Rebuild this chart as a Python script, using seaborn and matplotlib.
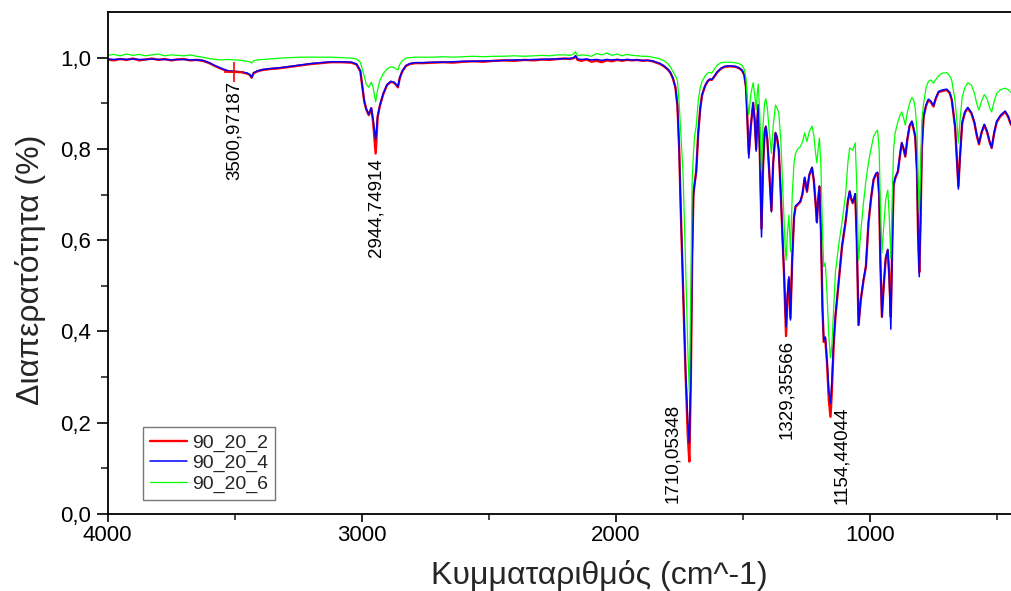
import matplotlib
matplotlib.use("Agg")
import matplotlib.pyplot as plt
import numpy as np
import pandas as pd
import seaborn as sns

# ---------------------------------------------------------------------------
# FTIR transmittance spectra (wavenumber in cm^-1, transmittance as fraction)
# ---------------------------------------------------------------------------
WAVENUMBER = [
    # 4000-3000: O-H region
    4000, 3975, 3950, 3925, 3900, 3875, 3850, 3825, 3800, 3775, 3750, 3725,
    3700, 3675, 3650, 3625, 3600, 3575, 3550, 3525, 3500.97187, 3475, 3450,
    3440, 3433, 3425, 3410, 3390, 3360, 3320, 3280, 3240, 3200, 3160, 3120,
    3080, 3040, 3020, 3005,
    # 3000-2800: C-H stretching
    2990, 2982, 2972, 2962, 2955, 2944.74914, 2937, 2928, 2915, 2900, 2885,
    2872, 2864, 2857, 2850, 2840, 2825, 2810, 2790,
    # 2800-1840: flat region
    2760, 2720, 2680, 2640, 2600, 2560, 2520, 2480, 2440, 2400, 2360, 2320,
    2290, 2260, 2230, 2200, 2180, 2165, 2158, 2150, 2135, 2115, 2095, 2075,
    2055, 2035, 2015, 1995, 1975, 1955, 1935, 1915, 1895, 1875, 1855, 1840,
    # 1830-440: carbonyl and fingerprint region
    1825, 1810, 1795, 1785, 1775, 1765, 1757, 1750, 1744, 1735, 1725, 1716,
    1710.05348, 1704, 1699, 1694, 1689, 1683, 1675, 1667, 1660, 1648, 1638,
    1630, 1622, 1612, 1600, 1585, 1570, 1550, 1530, 1515, 1503, 1494, 1487,
    1482, 1476, 1468, 1459, 1453, 1447, 1443, 1439, 1433, 1426, 1420, 1414,
    1409, 1403, 1395, 1387, 1380, 1371, 1365, 1358, 1350, 1343, 1337, 1333,
    1329.35566, 1324, 1318, 1312, 1305, 1298, 1292, 1283, 1273, 1265, 1256,
    1247, 1238, 1227, 1220, 1213, 1208, 1203, 1198, 1192, 1186, 1181, 1175,
    1168, 1161, 1154.44044, 1149, 1142, 1135, 1122, 1109, 1095, 1086, 1079,
    1073, 1067, 1062, 1057, 1051, 1044, 1035, 1025, 1015, 1005, 995, 985, 975,
    969, 963, 958, 952, 945, 937, 929, 923, 917, 911, 906, 900, 889, 880, 874,
    867, 860, 852, 843, 834, 826, 821, 814, 810, 805, 800, 795, 788, 778, 769,
    760, 749, 740, 729, 715, 697, 685, 677, 664, 657, 651, 645, 636, 625, 614,
    600, 588, 579, 570, 560, 549, 538, 528, 520, 510, 500, 485, 467, 455, 447,
    440,
]

T_90_20_2 = [
    0.996, 0.994, 0.997, 0.995, 0.998, 0.994, 0.996, 0.998, 0.995, 0.997, 0.994, 0.996,
    0.997, 0.994, 0.995, 0.993, 0.988, 0.981, 0.975, 0.970, 0.969, 0.968, 0.965,
    0.962, 0.956, 0.966, 0.970, 0.973, 0.975, 0.977, 0.980, 0.983, 0.986, 0.988, 0.990,
    0.990, 0.989, 0.985, 0.970,
    0.905, 0.887, 0.874, 0.889, 0.860, 0.790, 0.870, 0.895, 0.920, 0.940, 0.947,
    0.945, 0.940, 0.935, 0.955, 0.970, 0.982, 0.986, 0.988,
    0.988, 0.989, 0.990, 0.989, 0.991, 0.992, 0.991, 0.993, 0.994, 0.993, 0.995, 0.994,
    0.996, 0.995, 0.997, 0.998, 0.997, 0.999, 1.003, 0.995, 0.993, 0.996, 0.991, 0.993,
    0.990, 0.994, 0.992, 0.995, 0.993, 0.995, 0.994, 0.995, 0.993, 0.994, 0.992, 0.989,
    0.986, 0.981, 0.974, 0.967, 0.955, 0.935, 0.895, 0.800, 0.670, 0.500, 0.310, 0.170,
    0.115, 0.300, 0.560, 0.700, 0.725, 0.750, 0.835, 0.890, 0.918, 0.938, 0.948,
    0.952, 0.951, 0.958, 0.968, 0.976, 0.980, 0.981, 0.980, 0.977, 0.972, 0.962, 0.935,
    0.870, 0.790, 0.850, 0.900, 0.865, 0.800, 0.860, 0.895, 0.800, 0.625, 0.760, 0.835,
    0.848, 0.820, 0.745, 0.665, 0.770, 0.834, 0.825, 0.797, 0.700, 0.600, 0.520, 0.450,
    0.390, 0.470, 0.515, 0.430, 0.560, 0.650, 0.673, 0.678, 0.684, 0.700, 0.736,
    0.706, 0.742, 0.758, 0.730, 0.680, 0.640, 0.690, 0.717, 0.620, 0.450, 0.377, 0.385,
    0.330, 0.250, 0.213, 0.270, 0.370, 0.432, 0.510, 0.586, 0.640, 0.685, 0.706,
    0.690, 0.681, 0.690, 0.700, 0.600, 0.414, 0.470, 0.510, 0.542, 0.637, 0.690, 0.732, 0.745,
    0.747, 0.700, 0.550, 0.432, 0.500, 0.560, 0.578, 0.520, 0.432, 0.600, 0.720, 0.735, 0.750, 0.790, 0.812,
    0.800, 0.783, 0.820, 0.850, 0.859, 0.840, 0.827, 0.750, 0.620, 0.530, 0.640, 0.800, 0.870, 0.895, 0.907,
    0.903, 0.893, 0.910, 0.924, 0.927, 0.929, 0.922, 0.907, 0.848, 0.780, 0.718, 0.780, 0.857, 0.880, 0.889,
    0.878, 0.857, 0.830, 0.810, 0.835, 0.852, 0.837, 0.815, 0.802, 0.835, 0.859, 0.872, 0.881, 0.870, 0.857,
    0.850,
]

T_90_20_4 = [
    0.997, 0.996, 0.997, 0.996, 0.997, 0.996, 0.996, 0.997, 0.996, 0.996, 0.995, 0.996,
    0.996, 0.995, 0.995, 0.994, 0.989, 0.982, 0.976, 0.971, 0.970, 0.969, 0.966,
    0.963, 0.957, 0.967, 0.971, 0.974, 0.976, 0.978, 0.981, 0.984, 0.987, 0.989, 0.991,
    0.991, 0.990, 0.986, 0.971,
    0.906, 0.888, 0.876, 0.890, 0.865, 0.820, 0.872, 0.896, 0.921, 0.941, 0.948,
    0.946, 0.941, 0.937, 0.956, 0.971, 0.983, 0.987, 0.989,
    0.989, 0.990, 0.990, 0.991, 0.992, 0.992, 0.993, 0.993, 0.994, 0.995, 0.995, 0.996,
    0.996, 0.997, 0.997, 0.998, 0.998, 1.000, 1.004, 0.997, 0.996, 0.997, 0.995, 0.996,
    0.994, 0.996, 0.995, 0.996, 0.995, 0.996, 0.995, 0.995, 0.994, 0.994, 0.993, 0.990,
    0.987, 0.982, 0.975, 0.968, 0.956, 0.936, 0.896, 0.800, 0.670, 0.500, 0.315, 0.200,
    0.155, 0.320, 0.560, 0.700, 0.725, 0.750, 0.835, 0.890, 0.918, 0.939, 0.949,
    0.953, 0.952, 0.959, 0.969, 0.977, 0.981, 0.982, 0.981, 0.978, 0.973, 0.963, 0.935,
    0.868, 0.780, 0.850, 0.902, 0.862, 0.795, 0.860, 0.897, 0.795, 0.607, 0.760, 0.836,
    0.850, 0.820, 0.742, 0.662, 0.770, 0.836, 0.826, 0.797, 0.700, 0.600, 0.525, 0.460,
    0.410, 0.480, 0.520, 0.425, 0.560, 0.652, 0.675, 0.680, 0.686, 0.702, 0.738,
    0.708, 0.744, 0.760, 0.731, 0.680, 0.638, 0.690, 0.719, 0.615, 0.450, 0.380, 0.388,
    0.335, 0.270, 0.243, 0.290, 0.380, 0.435, 0.512, 0.588, 0.642, 0.687, 0.708,
    0.692, 0.683, 0.692, 0.702, 0.600, 0.414, 0.470, 0.512, 0.544, 0.639, 0.692, 0.734, 0.747,
    0.749, 0.700, 0.550, 0.432, 0.500, 0.562, 0.580, 0.515, 0.405, 0.600, 0.722, 0.737, 0.752, 0.792, 0.814,
    0.802, 0.785, 0.822, 0.852, 0.861, 0.842, 0.828, 0.750, 0.615, 0.520, 0.640, 0.802, 0.872, 0.897, 0.909,
    0.905, 0.895, 0.912, 0.926, 0.929, 0.931, 0.924, 0.908, 0.848, 0.778, 0.712, 0.780, 0.859, 0.882, 0.891,
    0.880, 0.859, 0.832, 0.812, 0.837, 0.854, 0.839, 0.816, 0.802, 0.837, 0.861, 0.874, 0.883, 0.872, 0.859,
    0.852,
]

T_90_20_6 = [
    1.005, 1.007, 1.004, 1.008, 1.005, 1.007, 1.004, 1.006, 1.008, 1.004, 1.006, 1.005,
    1.004, 1.006, 1.003, 1.001, 0.998, 0.996, 0.995, 0.996, 0.995, 0.994, 0.992,
    0.991, 0.988, 0.993, 0.995, 0.996, 0.997, 0.999, 1.000, 1.001, 1.001, 1.001, 1.001,
    1.000, 0.999, 0.997, 0.990,
    0.960, 0.942, 0.935, 0.946, 0.935, 0.903, 0.930, 0.950, 0.965, 0.975, 0.980,
    0.978, 0.975, 0.973, 0.985, 0.993, 0.999, 1.000, 1.001,
    1.001, 1.001, 1.002, 1.001, 1.002, 1.003, 1.002, 1.003, 1.003, 1.004, 1.003, 1.004,
    1.005, 1.004, 1.006, 1.006, 1.005, 1.008, 1.013, 1.004, 1.006, 1.005, 1.003, 1.009,
    1.006, 1.010, 1.005, 1.008, 1.004, 1.007, 1.005, 1.004, 1.003, 1.003, 1.001, 0.999,
    0.997, 0.993, 0.987, 0.980, 0.970, 0.960, 0.950, 0.900, 0.840, 0.747, 0.550, 0.360,
    0.268, 0.500, 0.730, 0.790, 0.830, 0.850, 0.905, 0.935, 0.948, 0.960, 0.966,
    0.968, 0.966, 0.974, 0.984, 0.989, 0.990, 0.990, 0.989, 0.987, 0.983, 0.975, 0.955,
    0.910, 0.875, 0.920, 0.945, 0.920, 0.885, 0.920, 0.942, 0.880, 0.752, 0.850, 0.900,
    0.910, 0.890, 0.835, 0.790, 0.850, 0.896, 0.890, 0.878, 0.820, 0.720, 0.640, 0.585,
    0.556, 0.615, 0.655, 0.575, 0.700, 0.770, 0.790, 0.800, 0.805, 0.815, 0.835,
    0.816, 0.838, 0.850, 0.830, 0.790, 0.769, 0.800, 0.824, 0.760, 0.620, 0.542, 0.550,
    0.480, 0.390, 0.342, 0.370, 0.450, 0.530, 0.590, 0.640, 0.700, 0.770, 0.802,
    0.800, 0.797, 0.805, 0.813, 0.720, 0.556, 0.620, 0.680, 0.730, 0.770, 0.800, 0.827, 0.838,
    0.841, 0.800, 0.680, 0.572, 0.630, 0.690, 0.710, 0.650, 0.561, 0.700, 0.800, 0.835, 0.860, 0.875, 0.881,
    0.868, 0.852, 0.880, 0.900, 0.913, 0.905, 0.890, 0.840, 0.750, 0.660, 0.750, 0.860, 0.900, 0.935, 0.948,
    0.951, 0.944, 0.952, 0.960, 0.966, 0.967, 0.960, 0.950, 0.905, 0.860, 0.813, 0.860, 0.914, 0.935, 0.945,
    0.940, 0.922, 0.900, 0.885, 0.905, 0.919, 0.910, 0.890, 0.881, 0.905, 0.922, 0.930, 0.933, 0.930, 0.925,
    0.923,
]

SAMPLES = ["90_20_2", "90_20_4", "90_20_6"]
PEAKS = [3500.97187, 2944.74914, 1710.05348, 1329.35566, 1154.44044]

X_TICKS = [4000, 3000, 2000, 1000]
X_MINOR = [3500, 2500, 1500, 500]
Y_TICKS = [0.0, 0.2, 0.4, 0.6, 0.8, 1.0]
Y_MINOR = [0.1, 0.3, 0.5, 0.7, 0.9]
Y_TICK_LABELS = ["0,0", "0,2", "0,4", "0,6", "0,8", "1,0"]

series = [T_90_20_2, T_90_20_4, T_90_20_6]
for s in series:
    assert len(s) == len(WAVENUMBER), (len(s), len(WAVENUMBER))

frames = [
    pd.DataFrame({"wavenumber": WAVENUMBER, "transmittance": t, "sample": name})
    for name, t in zip(SAMPLES, series)
]
spectra = pd.concat(frames, ignore_index=True)

# ---------------------------------------------------------------------------
sns.set_theme(style="ticks")
plt.rcParams["font.family"] = ["Liberation Sans", "DejaVu Sans"]
plt.rcParams["axes.linewidth"] = 1.3

fig = plt.figure(figsize=(10.12, 5.91), dpi=100)
ax = fig.add_axes([0.1063, 0.1303, 0.8937, 0.8494])

line_styles = {
    "90_20_2": dict(color="#ff0000", linewidth=1.7),
    "90_20_4": dict(color="#0000ff", linewidth=1.1),
    "90_20_6": dict(color="#00ff00", linewidth=0.9),
}
for name in SAMPLES:
    sns.lineplot(
        data=spectra[spectra["sample"] == name],
        x="wavenumber", y="transmittance",
        sort=False, estimator=None, label=name, ax=ax,
        **line_styles[name],
    )

# peak labels: (dx, dy) offsets in pixels of each label's top edge
label_offsets = [(0, -9), (0, -5), (-17, 58), (1, -4), (11, 10)]
ref = spectra[spectra["sample"] == "90_20_2"].set_index("wavenumber")["transmittance"]
for i, (wn, (dx, dy)) in enumerate(zip(PEAKS, label_offsets)):
    t = ref.loc[wn]
    if i == 0:
        ax.plot([wn], [t], marker="+", color="#ff0000", markersize=14,
                markeredgewidth=1.2, linestyle="none")
    ax.annotate(f"{wn:.5f}".replace(".", ","), xy=(wn, t),
                xytext=(dx, dy), textcoords="offset pixels",
                rotation=90, ha="center", va="top", fontsize=13.5,
                color="black")

ax.set_xlim(4000, 440)
ax.set_ylim(0, 1.1)
ax.set_xticks(X_TICKS)
ax.set_xticks(X_MINOR, minor=True)
ax.set_xticklabels([str(v) for v in X_TICKS])
ax.set_yticks(Y_TICKS)
ax.set_yticks(Y_MINOR, minor=True)
ax.set_yticklabels(Y_TICK_LABELS)

ax.tick_params(axis="both", which="major", direction="out", width=1.2,
               labelsize=16, colors="black")
ax.tick_params(axis="x", which="major", length=6, pad=2)
ax.tick_params(axis="y", which="major", length=8, pad=4)
ax.tick_params(axis="x", which="minor", length=4, width=1.2)
ax.tick_params(axis="y", which="minor", length=5, width=1.2)

for side in ("left", "bottom", "top"):
    ax.spines[side].set_visible(True)
    ax.spines[side].set_color("black")
ax.spines["right"].set_visible(False)

ax.set_xlabel("Κυμματαριθμός (cm^-1)", fontsize=23)
ax.set_ylabel("Διαπερατότητα (%)", fontsize=23)
ax.xaxis.set_label_coords(0.544, -0.092)
ax.yaxis.set_label_coords(-0.068, 0.486)

leg = ax.legend(loc="lower left", bbox_to_anchor=(0.039, 0.028),
                borderaxespad=0, frameon=True, fancybox=False,
                fontsize=14, handlelength=1.9, handletextpad=0.3,
                labelspacing=0.15, borderpad=0.35)
leg.get_frame().set_edgecolor("#555555")
leg.get_frame().set_linewidth(1.0)

fig.savefig("out.png", dpi=100)
